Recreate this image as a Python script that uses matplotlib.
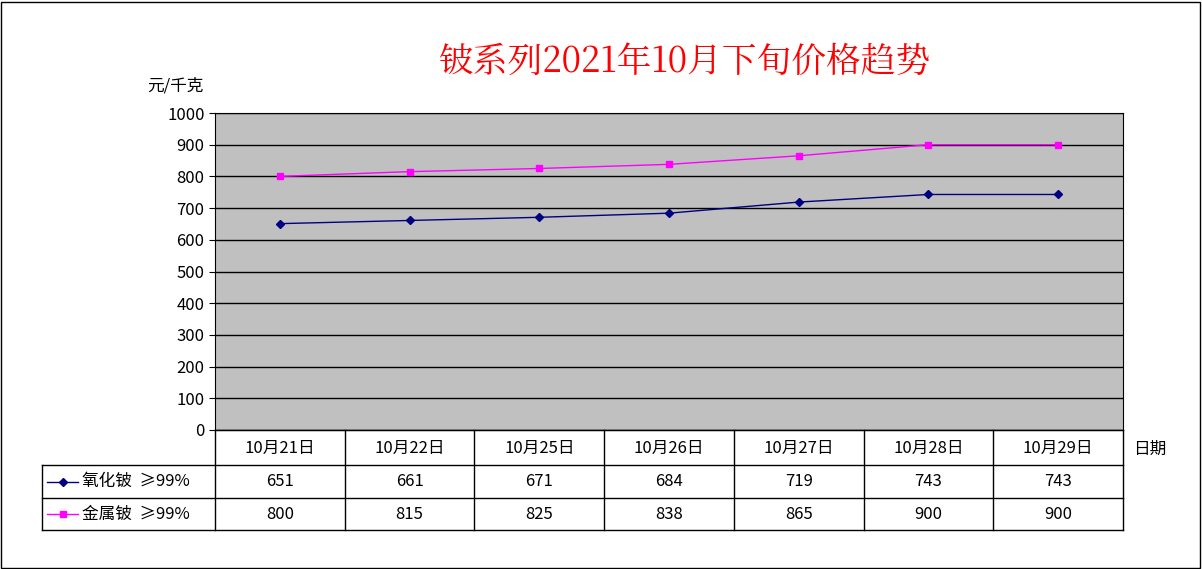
import matplotlib
matplotlib.use("Agg")
import matplotlib.pyplot as plt
from matplotlib.patches import Rectangle
import numpy as np

plt.rcParams["font.family"] = ["Noto Sans CJK SC", "DejaVu Sans"]

dates = ["10月21日", "10月22日", "10月25日", "10月26日", "10月27日", "10月28日", "10月29日"]
oxide = [651, 661, 671, 684, 719, 743, 743]
metal = [800, 815, 825, 838, 865, 900, 900]
series_names = ["氧化铍  ≥99%", "金属铍  ≥99%"]
series_colors = ["#000080", "#FF00FF"]
series_markers = ["D", "s"]

W, H = 1202, 569
fig = plt.figure(figsize=(W / 100, H / 100), dpi=100)
fig.patches.append(Rectangle((1 / W, 1 / H), 1 - 3 / W, 1 - 3 / H,
                             transform=fig.transFigure, fill=False, ec="black", lw=1))

# plot area
px0, px1, py0, py1 = 215, 1123, 430, 113
ax = fig.add_axes([px0 / W, 1 - py0 / H, (px1 - px0) / W, (py0 - py1) / H])
ax.set_facecolor("#C0C0C0")
x = np.arange(len(dates))
for vals, c, m in zip([oxide, metal], series_colors, series_markers):
    ax.plot(x, vals, color=c, lw=1, marker=m, ms=4 if m == "D" else 5)
ax.set_xlim(-0.5, len(dates) - 0.5)
ax.set_ylim(0, 1000)
ax.set_yticks(range(0, 1001, 100))
ax.set_xticks([])
ax.grid(axis="y", color="black", lw=1)
ax.set_axisbelow(True)
ax.tick_params(axis="y", labelsize=12, length=4)
for s in ax.spines.values():
    s.set_color("black")

fig.text(685 / W, 1 - 62 / H, "铍系列2021年10月下旬价格趋势", color="red",
         fontsize=25, ha="center", va="center", family=["Noto Serif CJK SC", "Noto Sans CJK SC"])
fig.text(175 / W, 1 - 86 / H, "元/千克", fontsize=12, ha="center", va="center")
fig.text(1150 / W, 1 - 449 / H, "日期", fontsize=12, ha="center", va="center")

# data table
tx0, ty0, ty1 = 42, 430, 530
unit = (px1 - px0) / len(dates)
tab = fig.add_axes([tx0 / W, 1 - ty1 / H, (px1 - tx0) / W, (ty1 - ty0) / H])
left = -0.5 - (px0 - tx0) / unit
right = len(dates) - 0.5
tab.set_xlim(left, right)
tab.set_ylim(3, 0)
tab.axis("off")
rows = [0, 1.05, 2.05, 3]
lk = dict(color="black", lw=1, clip_on=False)
tab.plot([-0.5, right], [0, 0], **lk)
for r in rows[1:]:
    tab.plot([left, right], [r, r], **lk)
for i in range(len(dates) + 1):
    tab.plot([i - 0.5, i - 0.5], [0, 3], **lk)
tab.plot([left, left], [rows[1], 3], **lk)
for i, d in enumerate(dates):
    tab.text(i, 0.55, d, ha="center", va="center", fontsize=12)
for k, vals in enumerate([oxide, metal]):
    yc = (rows[k + 1] + rows[k + 2]) / 2
    for i, v in enumerate(vals):
        tab.text(i, yc, str(v), ha="center", va="center", fontsize=12)
    tab.plot([left + 0.04, left + 0.28], [yc, yc], color=series_colors[k], lw=1, clip_on=False)
    tab.plot([left + 0.16], [yc], color=series_colors[k], marker=series_markers[k], ms=4)
    tab.text(left + 0.31, yc, series_names[k], ha="left", va="center", fontsize=12)

fig.savefig("out.png", dpi=100)
